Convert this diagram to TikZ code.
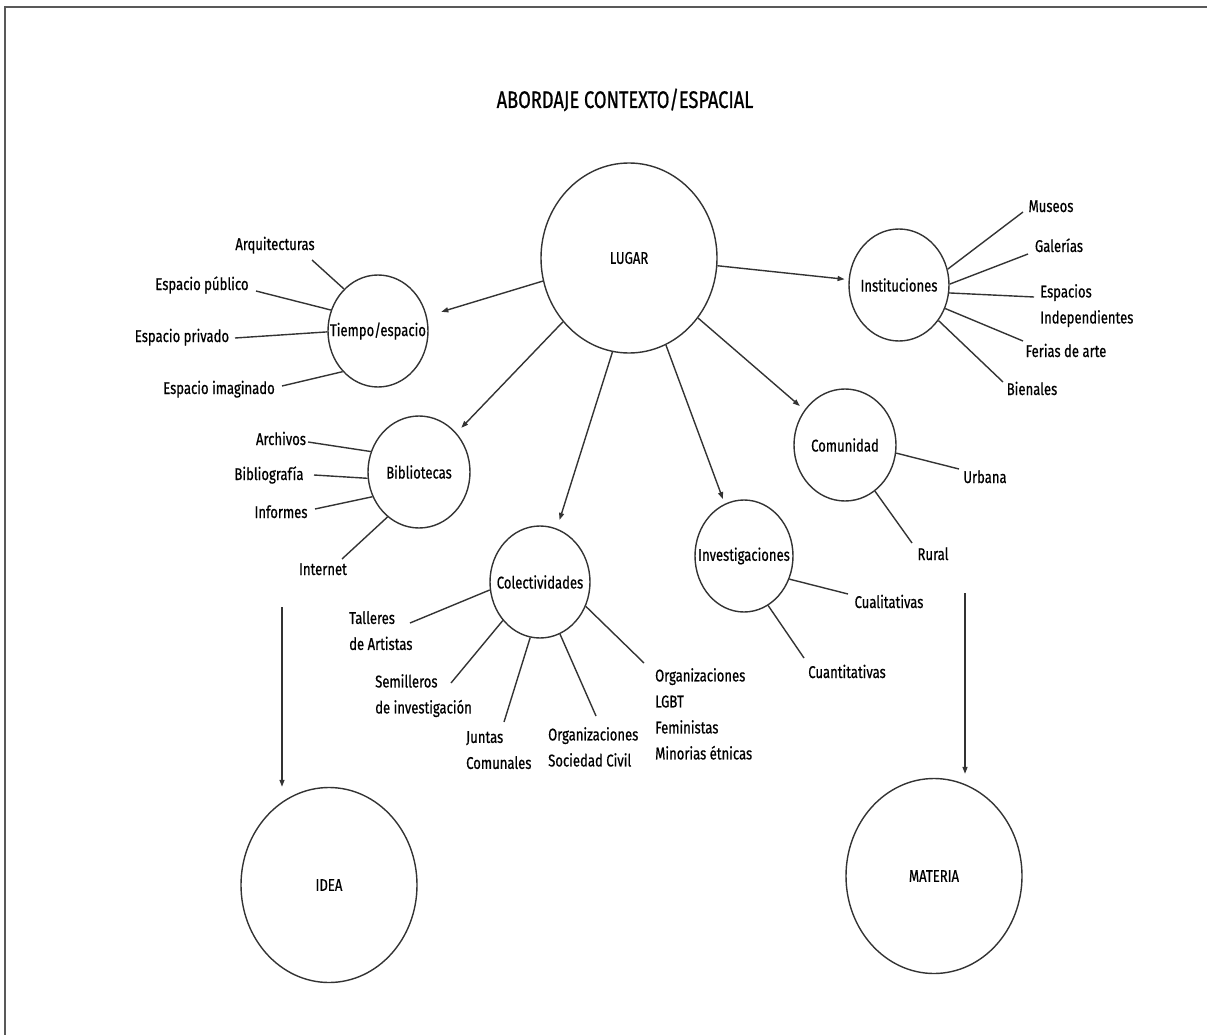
\documentclass[tikz,border=0pt]{standalone}
\usepackage{fontspec}
\setmainfont{Fira Sans}[FakeStretch=0.77,FakeBold=0.6]
\newfontfamily\titlefont{Fira Sans}[FakeStretch=0.76,FakeBold=0.8]
\usetikzlibrary{shapes.geometric,arrows.meta,calc}
\definecolor{ink}{HTML}{333333}
\tikzset{
  bub/.style={ellipse,draw=ink,line width=1.4pt,inner sep=0pt,font=\fontsize{17}{19}\selectfont},
  lab/.style={inner sep=0pt,font=\fontsize{17}{26}\selectfont,anchor=base},
  mlab/.style={inner sep=0pt,font=\fontsize{17}{26}\selectfont,align=left,anchor=north west},
  spoke/.style={draw=ink,line width=1.4pt},
  arr/.style={draw=ink,line width=1.4pt,-{Triangle[length=7pt,width=5pt]}},
}
\begin{document}
\begin{tikzpicture}[x=1pt,y=-1pt]
\useasboundingbox (0,0) rectangle (1207,1035);
\draw[gray!70!black,line width=1.5pt] (5,1035) -- (5,7) -- (1207,7);

\node[font=\titlefont\fontsize{24}{26}\selectfont,anchor=base,inner sep=0pt] (title) at (625,108) {ABORDAJE CONTEXTO/ESPACIAL};

% bubbles
\node[bub,minimum width=176pt,minimum height=190pt] (lug) at (629,258) {\makebox[0pt]{LUGAR}};
\node[bub,minimum width=100pt,minimum height=112pt] (tie) at (378,331) {\makebox[0pt]{Tiempo/espacio}};
\node[bub,minimum width=100pt,minimum height=112pt] (ins) at (899,285) {\makebox[0pt]{Instituciones}};
\node[bub,minimum width=102pt,minimum height=112pt] (bib) at (419,472) {\makebox[0pt]{Bibliotecas}};
\node[bub,minimum width=100pt,minimum height=112pt] (col) at (540,582) {\makebox[0pt]{Colectividades}};
\node[bub,minimum width=98pt,minimum height=112pt] (inv) at (744,556) {\makebox[0pt]{Investigaciones}};
\node[bub,minimum width=102pt,minimum height=112pt] (com) at (845,445) {\makebox[0pt]{Comunidad}};
\node[bub,minimum width=176pt,minimum height=195pt] (idea) at (329,885) {\makebox[0pt]{IDEA}};
\node[bub,minimum width=176pt,minimum height=195pt] (mat) at (934,876) {\makebox[0pt]{MATERIA}};

% arrows from LUGAR
\draw[arr,shorten >=4pt] (lug.355) -- (ins);
\draw[arr,shorten >=15pt] (lug.195) -- (tie);
\draw[arr,shorten >=7pt] (lug.224) -- (bib);
\draw[arr,shorten >=9pt] (lug.260) -- (col);
\draw[arr,shorten >=5pt] (lug.293) -- (inv);
\draw[arr,shorten >=6pt] (lug.319) -- (com);

% vertical arrows
\coordinate (ideaS) at (282,607);
\draw[arr] (ideaS) -- (ideaS |- idea.north);
\coordinate (matS) at (965,593);
\draw[arr,shorten >=4pt] (matS) -- (matS |- mat.north);

% Tiempo/espacio
\node[lab] (arq) at (275,250) {Arquitecturas};
\node[lab] (pub) at (202,290) {Espacio público};
\node[lab] (pri) at (182,342) {Espacio privado};
\node[lab] (ima) at (219,394) {Espacio imaginado};
\coordinate (arq-e) at (312,260);
\coordinate (pub-e) at (256,291);
\coordinate (pri-e) at (235,338);
\coordinate (ima-e) at (282,386);
\draw[spoke] (arq-e) -- (tie.129);
\draw[spoke] (pub-e) -- (tie.156);
\draw[spoke] (pri-e) -- (tie.181);
\draw[spoke] (ima-e) -- (tie.229);

% Instituciones
\node[lab] (mus) at (1051,212) {Museos};
\node[lab] (gal) at (1059,252) {Galerías};
\node[mlab] (esp) at (1040,284) {Espacios\\Independientes};
\node[lab] (fer) at (1066,357) {Ferias de arte};
\node[lab] (bie) at (1032,395) {Bienales};
\coordinate (mus-e) at (1023,212);
\coordinate (gal-e) at (1028,254);
\coordinate (esp-e) at (1034,297);
\coordinate (fer-e) at (1023,341);
\coordinate (bie-e) at (1003,382);
\draw[spoke] (mus-e) -- (ins.18);
\draw[spoke] (gal-e) -- (ins.1);
\draw[spoke] (esp-e) -- (ins.-9);
\draw[spoke] (fer-e) -- (ins.-27);
\draw[spoke] (bie-e) -- (ins.-42);

% Comunidad
\node[lab] (urb) at (985,483) {Urbana};
\node[lab] (rur) at (933,560) {Rural};
\coordinate (urb-e) at (959,469);
\coordinate (rur-e) at (912,543);
\draw[spoke] (urb-e) -- (com.-9);
\draw[spoke] (rur-e) -- (com.-57);

% Investigaciones
\node[lab] (cual) at (889,608) {Cualitativas};
\node[lab] (cuan) at (847,678) {Cuantitativas};
\coordinate (cual-e) at (848,594);
\coordinate (cuan-e) at (804,658);
\draw[spoke] (cual-e) -- (inv.-27);
\draw[spoke] (cuan-e) -- (inv.-64);

% Bibliotecas
\node[lab] (arc) at (281,445) {Archivos};
\node[lab] (bbl) at (269,480) {Bibliografía};
\node[lab] (inf) at (281,518) {Informes};
\node[lab] (int) at (323,575) {Internet};
\coordinate (arc-e) at (308,442);
\coordinate (bbl-e) at (314,475);
\coordinate (inf-e) at (315,509);
\coordinate (int-e) at (342,559);
\draw[spoke] (arc-e) -- (bib.157);
\draw[spoke] (bbl-e) -- (bib.187);
\draw[spoke] (inf-e) -- (bib.208);
\draw[spoke] (int-e) -- (bib.235);

% Colectividades
\node[mlab] (tal) at (349,611) {Talleres\\de Artistas};
\node[mlab] (sem) at (375,674) {Semilleros\\de investigación};
\node[mlab] (jun) at (466,731) {Juntas\\Comunales};
\node[mlab] (osc) at (548,727) {Organizaciones\\Sociedad Civil};
\node[mlab] (org) at (655,668) {Organizaciones\\LGBT\\Feministas\\Minorias étnicas};
\coordinate (tal-e) at (410,623);
\coordinate (sem-e) at (451,683);
\coordinate (jun-e) at (504,722);
\coordinate (osc-e) at (596,716);
\coordinate (org-e) at (644,663);
\draw[spoke] (tal-e) -- (col.189);
\draw[spoke] (sem-e) -- (col.226);
\draw[spoke] (jun-e) -- (col.260);
\draw[spoke] (osc-e) -- (col.291);
\draw[spoke] (org-e) -- (col.-28);
\end{tikzpicture}
\end{document}
